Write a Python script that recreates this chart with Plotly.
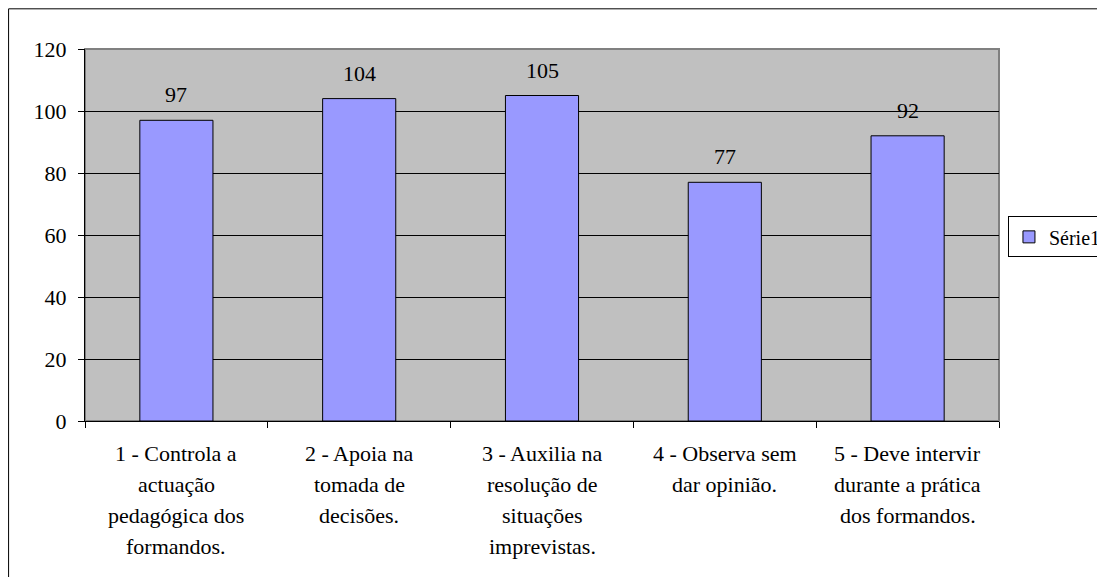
import plotly.graph_objects as go

categories = [
    "1 - Controla a<br>actuação<br>pedagógica dos<br>formandos.",
    "2 - Apoia na<br>tomada de<br>decisões.",
    "3 - Auxilia na<br>resolução de<br>situações<br>imprevistas.",
    "4 - Observa sem<br>dar opinião.",
    "5 - Deve intervir<br>durante a prática<br>dos formandos.",
]
values = [97, 104, 105, 77, 92]
series_name = "Série1"
y_ticks = [0, 20, 40, 60, 80, 100, 120]

FONT = "Liberation Serif"
LINE_SPACING = 31

fig = go.Figure()
fig.add_trace(go.Bar(
    x=categories, y=values, name=series_name,
    marker=dict(color="#9999FF", line=dict(color="black", width=1)),
    width=0.4, showlegend=True,
))

# data labels
for c, v in zip(categories, values):
    fig.add_annotation(x=c, y=v, text=str(v), showarrow=False, yanchor="bottom",
                       yshift=11, font=dict(family=FONT, size=22, color="black"))

# category labels, one line at a time (Excel-like line spacing)
for c in categories:
    for i, line in enumerate(c.split("<br>")):
        fig.add_annotation(x=c, y=0, text=line, showarrow=False, yanchor="middle",
                           yshift=-(32 + LINE_SPACING * i),
                           font=dict(family=FONT, size=22, color="black"))

# plot area border (grey) and outer chart border
fig.add_shape(type="rect", xref="paper", yref="paper", x0=0, x1=1, y0=0, y1=1,
              line=dict(color="#808080", width=2), fillcolor="rgba(0,0,0,0)", layer="below")
fig.add_shape(type="rect", xref="paper", yref="paper", x0=-0.0836, x1=1.2, y0=-0.5, y1=1.108,
              line=dict(color="black", width=1), fillcolor="rgba(0,0,0,0)", layer="below")

fig.update_layout(
    width=1105, height=577,
    margin=dict(l=77, r=114, t=41, b=164, autoexpand=False),
    paper_bgcolor="white", plot_bgcolor="#C0C0C0",
    font=dict(family=FONT, size=22, color="black"),
    legend=dict(x=1.0098, y=0.495, xanchor="left", yanchor="middle",
                bordercolor="black", borderwidth=1, bgcolor="white",
                font=dict(family=FONT, size=20, color="black"),
                itemwidth=30),
    xaxis=dict(type="category", showline=True, linecolor="black", linewidth=1,
               ticks="outside", ticklen=6, tickcolor="black", tickson="boundaries",
               showgrid=False, showticklabels=False),
    yaxis=dict(range=[0, 120], tickvals=y_ticks, showline=True, linecolor="black",
               linewidth=1, ticks="outside", ticklen=6, tickcolor="black",
               showgrid=True, gridcolor="black", gridwidth=1, zeroline=False,
               tickfont=dict(family=FONT, size=22), ticklabelstandoff=7),
)

fig.write_html("out.html")
